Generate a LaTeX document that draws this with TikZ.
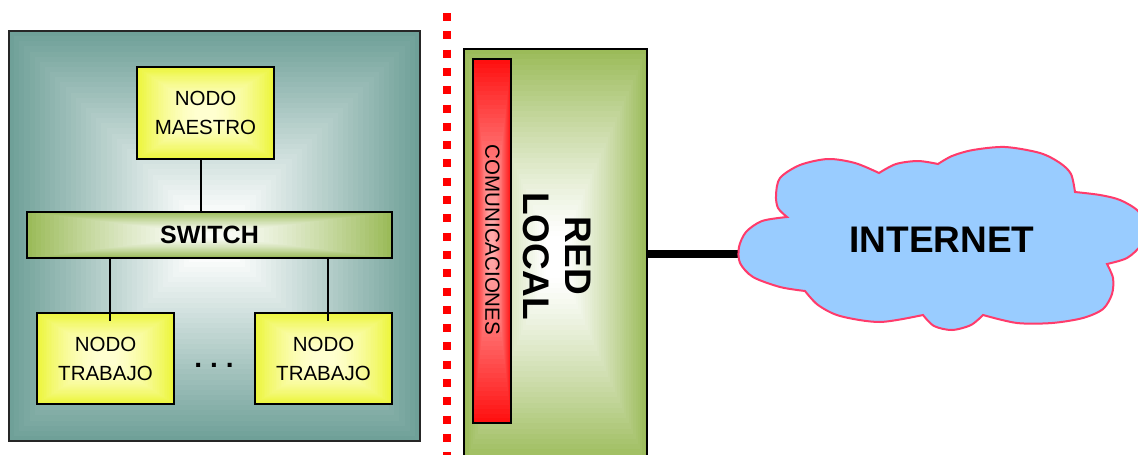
\documentclass[tikz,border=0pt]{standalone}
\usepackage{fontspec}
\setmainfont{Liberation Sans}
\usetikzlibrary{calc}
\definecolor{tealc}{HTML}{6FA098}
\definecolor{greenc}{HTML}{9BBB59}
\definecolor{yelc}{HTML}{ECF53A}
\definecolor{yelin}{HTML}{FFFFD0}
\definecolor{redc}{HTML}{FF1010}
\definecolor{redin}{HTML}{FFA8A8}
\definecolor{cloudc}{HTML}{99CCFF}
\definecolor{cloudb}{HTML}{FF3B6B}
\definecolor{greenin}{HTML}{FAFCF6}
\tikzset{
  rgrad/.style n args={3}{path picture={
    \foreach \i in {40,39,...,0}{
      \pgfmathsetmacro\gt{\i/40}
      \pgfmathsetmacro\pc{100*(max(0,(\gt-0.1)/0.9))^(#3)}
      \colorlet{gc}{#1!\pc!#2}
      \fill[gc] ($(path picture bounding box.center)!\gt!(path picture bounding box.south west)$) rectangle ($(path picture bounding box.center)!\gt!(path picture bounding box.north east)$);
    }}},
  box/.style={draw=black, line width=1.5pt, inner sep=0pt},
  ybox/.style={box, rgrad={yelc}{yelin}{1.6}, minimum width=137pt, minimum height=91pt, align=center,
    font=\fontsize{20.5pt}{29pt}\selectfont},
  wire/.style={draw=black, line width=1.2pt},
}
\begin{document}
\begin{tikzpicture}[x=1pt,y=-1pt]
\useasboundingbox (0,0) rectangle (1138,455);
\clip (0,0) rectangle (1138,455);
\fill[white] (0,0) rectangle (1138,455);

% left cluster
\node[box, draw=black!85, rgrad={tealc}{white}{1.0}, minimum width=411pt, minimum height=410pt] (cluster) at (214.5,236) {};
\node[ybox, minimum height=92pt] (maestro) at (205.5,113) {NODO\\MAESTRO};
\node[box, rgrad={greenc}{greenin}{1.3}, minimum width=365pt, minimum height=46pt,
  font=\bfseries\fontsize{25pt}{25pt}\selectfont] (switch) at (209.5,235) {SWITCH};
\node[ybox] (trab1) at (105.5,358.5) {NODO\\TRABAJO};
\node[ybox] (trab2) at (323.5,358.5) {NODO\\TRABAJO};
\node[font=\bfseries\fontsize{28pt}{28pt}\selectfont, anchor=base, inner sep=0pt] (dots) at (214,367) {.\hspace{8pt}.\hspace{8pt}.};

\draw[wire] ([xshift=-4.5pt]maestro.south) -- ([xshift=-4.5pt]maestro.south |- switch.north);
\draw[wire] ([xshift=4.5pt]trab1.north |- switch.south) -- ([xshift=4.5pt,yshift=-9pt]trab1.north);
\draw[wire] ([xshift=4.5pt]trab2.north |- switch.south) -- ([xshift=4.5pt,yshift=-9pt]trab2.north);

% separator
\coordinate (septop) at (447,13);
\coordinate (sepbot) at (447,470);
\draw[red, line width=8pt, dash pattern=on 8pt off 10.3pt] (septop) -- (sepbot);

% red local
\node[box, rgrad={greenc}{white}{1.2}, minimum width=183pt, minimum height=416pt] (redlocal) at (555.5,257) {};
\node[box, rgrad={redc}{redin}{1.2}, minimum width=38pt, minimum height=364pt] (comm) at (492,241) {};
\node[rotate=-90, font=\fontsize{20.5pt}{20.5pt}\selectfont, inner sep=0pt] (commtxt) at (492.5,240) {COMUNICACIONES};
\node[rotate=-90, align=center, font=\bfseries\fontsize{37pt}{42pt}\selectfont, inner sep=0pt] (rltxt) at (557,256) {RED\\LOCAL};

% cloud
\coordinate (cloudL) at (739,254);
\draw[line width=8pt] (redlocal.east |- cloudL) -- (cloudL);
\filldraw[fill=cloudc, draw=cloudb, line width=2pt]
  (787,217) -- plot[smooth] coordinates {(787,217) (762,221) (746,232) (739,247) (740,263) (753,277) (780,287) (805,291)}
  -- plot[smooth] coordinates {(805,291) (818,305) (840,316) (880,322) (923,315)}
  -- plot[smooth] coordinates {(923,315) (934,326) (952,330) (971,325) (983,315)}
  -- plot[smooth] coordinates {(983,315) (1017,323) (1052,323) (1083,318) (1103,309) (1112,294) (1113,278) (1107,264)}
  -- plot[smooth] coordinates {(1107,264) (1127,258) (1141,245) (1146,228) (1138,211) (1120,200) (1100,195) (1075,192)}
  -- plot[smooth] coordinates {(1075,192) (1071,174) (1060,163) (1040,153) (1005,147) (973,150) (952,156) (938,164)}
  -- plot[smooth] coordinates {(938,164) (918,161) (896,164) (879,173)}
  -- plot[smooth] coordinates {(879,173) (855,163) (828,159) (800,165) (780,178) (776,195) (778,208) (787,217)}
  -- cycle;
\node[font=\bfseries\fontsize{37pt}{37pt}\selectfont, inner sep=0pt] (inet) at (942,240) {INTERNET};
\end{tikzpicture}
\end{document}
